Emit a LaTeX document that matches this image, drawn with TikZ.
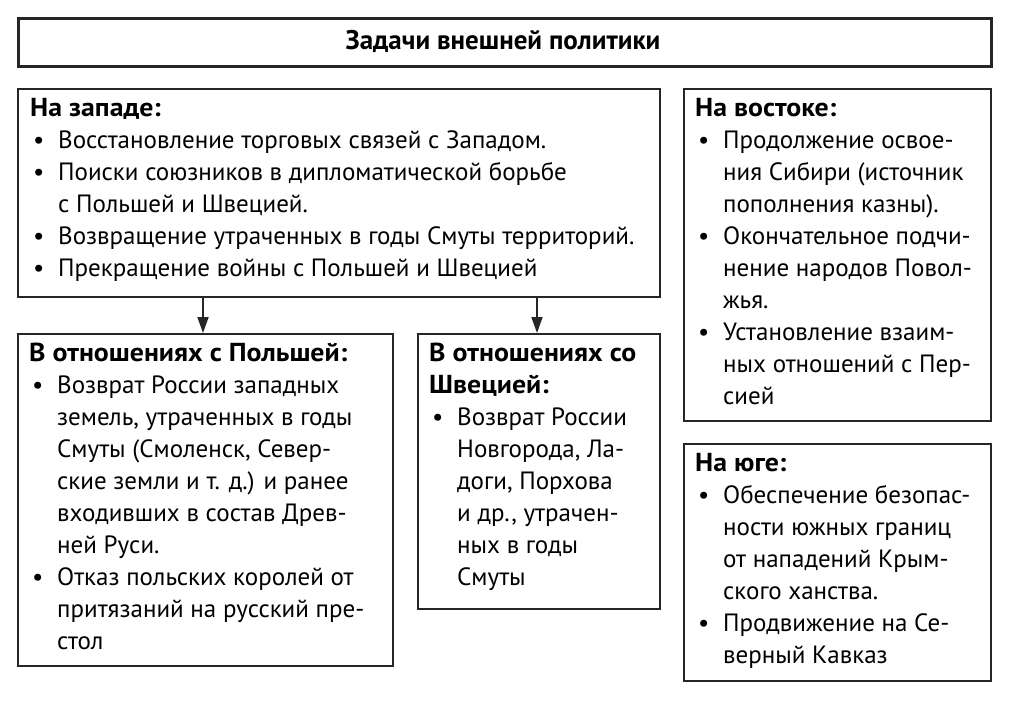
\documentclass[tikz,border=0pt]{standalone}
\usepackage{fontspec}
\setmainfont{PT Sans}
\usetikzlibrary{arrows.meta}
\newcommand\bl{\makebox[28pt][l]{\hspace{3pt}•}}
\newcommand\ct{\hspace*{28pt}}
\newcommand\hd[1]{\scalebox{1.07}[1]{\fontsize{26}{32}\selectfont\bfseries #1}}
\begin{document}
\begin{tikzpicture}[x=1pt,y=-1pt,
  frame/.style={draw=black!85,line width=1.8pt,anchor=north west,inner sep=0pt},
  txt/.style={anchor=north west,inner sep=0pt,align=left,font=\fontsize{25}{32}\selectfont},
  conn/.style={draw=black!85,line width=1.8pt,-{Triangle[length=16pt,width=11pt]}}]
\useasboundingbox (0,0) rectangle (1024,711);
\fill[white] (0,0) rectangle (1024,711);
% title
\node[frame,line width=2.6pt,minimum width=973pt,minimum height=48pt] (title) at (17,17) {};
\node[font=\bfseries\fontsize{27}{30}\selectfont] (tt) at (503,41) {Задачи внешней политики};
% boxes
\node[frame,minimum width=642pt,minimum height=208pt] (west) at (17,88) {};
\node[frame,minimum width=307pt,minimum height=332pt] (east) at (683,88) {};
\node[frame,minimum width=307pt,minimum height=237pt] (south) at (683,443) {};
\node[frame,minimum width=375pt,minimum height=332pt] (pol) at (17,333) {};
\node[frame,minimum width=242pt,minimum height=275pt] (swe) at (417,333) {};
% texts
\node[txt] (westt) at (30,94) {\strut\hd{На западе:}\\
\bl Восстановление торговых связей с Западом.\\
\bl Поиски союзников в дипломатической борьбе\\
\ct с Польшей и Швецией.\\
\bl Возвращение утраченных в годы Смуты территорий.\\
\bl Прекращение войны с Польшей и Швецией};
\node[txt] (polt) at (29,339) {\strut\hd{В отношениях с Польшей:}\\
\bl Возврат России западных\\
\ct земель, утраченных в годы\\
\ct Смуты (Смоленск, Север-\\
\ct ские земли и т. д.) и ранее\\
\ct входивших в состав Древ-\\
\ct ней Руси.\\
\bl Отказ польских королей от\\
\ct притязаний на русский пре-\\
\ct стол};
\node[txt] (swet) at (429,339) {\strut\hd{В отношениях со}\\
\hd{Швецией:}\\
\bl Возврат России\\
\ct Новгорода, Ла-\\
\ct доги, Порхова\\
\ct и др., утрачен-\\
\ct ных в годы\\
\ct Смуты};
\node[txt] (eastt) at (695,94) {\strut\hd{На востоке:}\\
\bl Продолжение освое-\\
\ct ния Сибири (источник\\
\ct пополнения казны).\\
\bl Окончательное подчи-\\
\ct нение народов Повол-\\
\ct жья.\\
\bl Установление взаим-\\
\ct ных отношений с Пер-\\
\ct сией};
\node[txt] (southt) at (695,449) {\strut\hd{На юге:}\\
\bl Обеспечение безопас-\\
\ct ности южных границ\\
\ct от нападений Крым-\\
\ct ского ханства.\\
\bl Продвижение на Се-\\
\ct верный Кавказ};
% connectors
\coordinate (a1) at (203,296);
\coordinate (a2) at (537,296);
\draw[conn] (a1) -- (a1 |- pol.north);
\draw[conn] (a2) -- (a2 |- swe.north);
\end{tikzpicture}
\end{document}
